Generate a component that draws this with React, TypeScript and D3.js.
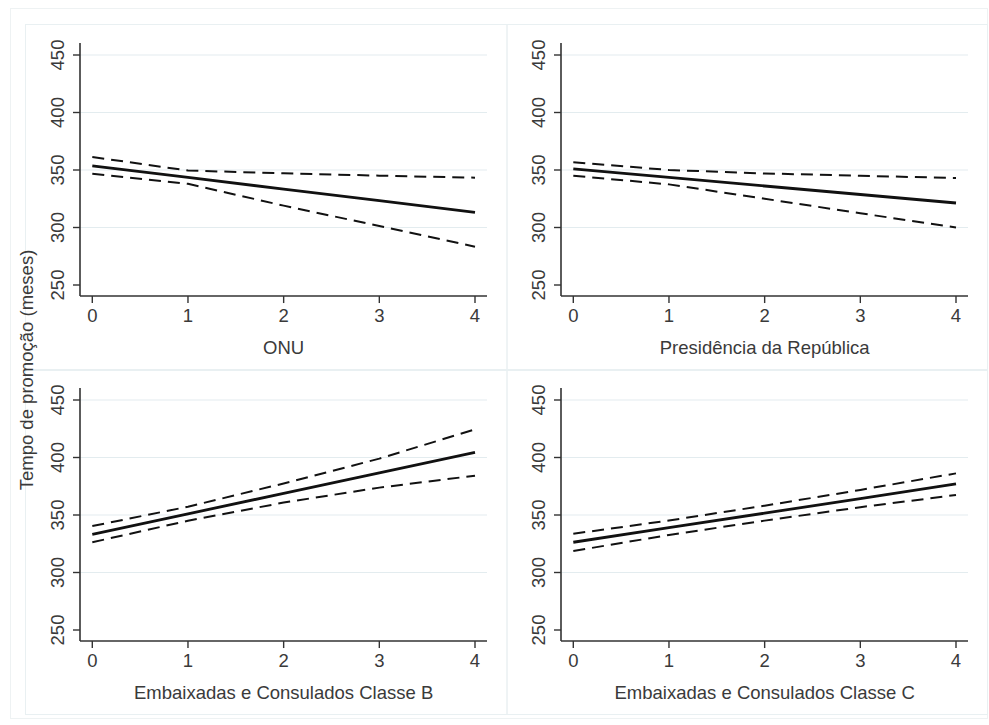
import React, { useEffect, useRef } from "react";
import * as d3 from "d3";

// x values where margins were evaluated
const xValues = [0, 1, 2, 3, 4];
const yTicks = [250, 300, 350, 400, 450];
const gridTicks = [300, 350, 400, 450];

const panelTitles = [
  "ONU",
  "Presidência da República",
  "Embaixadas e Consulados Classe B",
  "Embaixadas e Consulados Classe C",
];

// predicted promotion time (months) with 95% CI
const onuFit = [353.5, 343.5, 333.4, 323.3, 313.2];
const onuUpper = [361.3, 349.5, 347.1, 345.1, 343.3];
const onuLower = [346.8, 338.0, 319.0, 301.3, 283.3];

const presFit = [350.9, 343.5, 336.1, 328.7, 321.3];
const presUpper = [356.7, 350.0, 347.0, 345.0, 343.0];
const presLower = [345.0, 337.5, 325.0, 312.4, 300.0];

const classeBFit = [333.2, 351.0, 368.8, 386.7, 404.5];
const classeBUpper = [340.4, 357.2, 377.4, 399.0, 424.5];
const classeBLower = [326.3, 345.0, 360.8, 373.8, 384.2];

const classeCFit = [326.3, 339.0, 351.6, 364.3, 377.0];
const classeCUpper = [333.7, 345.2, 358.1, 371.8, 386.2];
const classeCLower = [318.7, 332.6, 345.1, 356.8, 367.4];

const yTitle = "Tempo de promoção (meses)";

const W = 989;
const H = 725;
const FONT = "'Liberation Sans', Arial, Helvetica, sans-serif";

export default function App() {
  const ref = useRef<SVGSVGElement>(null);

  useEffect(() => {
    const svg = d3.select(ref.current);
    svg.selectAll("*").remove();

    svg.append("rect").attr("width", W).attr("height", H).attr("fill", "#fff");
    // outer frame
    svg.append("rect")
      .attr("x", 10.5).attr("y", 8.5).attr("width", 977).attr("height", 710)
      .attr("fill", "none").attr("stroke", "#eef2f3");

    const panels = [
      { title: panelTitles[0], fit: onuFit, up: onuUpper, lo: onuLower, col: 0, row: 0 },
      { title: panelTitles[1], fit: presFit, up: presUpper, lo: presLower, col: 1, row: 0 },
      { title: panelTitles[2], fit: classeBFit, up: classeBUpper, lo: classeBLower, col: 0, row: 1 },
      { title: panelTitles[3], fit: classeCFit, up: classeCUpper, lo: classeCLower, col: 1, row: 1 },
    ];

    const colBox = [[25, 506.5], [506.5, 987]];
    const rowBox = [[24, 369], [370, 714]];
    const colAxis = [80, 561];
    const rowTop = [55, 400];

    panels.forEach((p) => {
      const g = svg.append("g");
      const bx = colBox[p.col], by = rowBox[p.row];
      g.append("rect")
        .attr("x", bx[0] + 0.5).attr("y", by[0] + 0.5)
        .attr("width", bx[1] - bx[0]).attr("height", by[1] - by[0])
        .attr("fill", "none").attr("stroke", "#e9f0f2");

      const ax = colAxis[p.col];
      const x = d3.scaleLinear().domain([0, 4]).range([ax + 12.3, ax + 395]);
      const y = d3.scaleLinear().domain([250, 450]).range([rowTop[p.row] + 230, rowTop[p.row]]);
      const axisBottom = y(240.4);
      const axisTop = y(460.5);
      const right = ax + 407;

      // gridlines
      g.selectAll(".grid").data(gridTicks).join("line")
        .attr("x1", ax).attr("x2", right)
        .attr("y1", (d) => y(d)).attr("y2", (d) => y(d))
        .attr("stroke", "#e3ecef").attr("stroke-width", 1.2);

      // axes
      g.append("line").attr("x1", ax).attr("x2", ax)
        .attr("y1", axisTop).attr("y2", axisBottom)
        .attr("stroke", "#333").attr("stroke-width", 1.6);
      g.append("line").attr("x1", ax).attr("x2", right)
        .attr("y1", axisBottom).attr("y2", axisBottom)
        .attr("stroke", "#333").attr("stroke-width", 1.6);

      g.selectAll(".yt").data(yTicks).join("line")
        .attr("x1", ax - 7).attr("x2", ax)
        .attr("y1", (d) => y(d)).attr("y2", (d) => y(d))
        .attr("stroke", "#333").attr("stroke-width", 1.4);
      g.selectAll(".ytl").data(yTicks).join("text")
        .attr("transform", (d) => `translate(${ax - 16.5},${y(d)}) rotate(-90)`)
        .attr("text-anchor", "middle")
        .attr("font-family", FONT).attr("font-size", 18.5).attr("fill", "#3a3a3a")
        .text((d) => d);

      g.selectAll(".xt").data(xValues).join("line")
        .attr("x1", (d) => x(d)).attr("x2", (d) => x(d))
        .attr("y1", axisBottom).attr("y2", axisBottom + 7)
        .attr("stroke", "#333").attr("stroke-width", 1.4);
      g.selectAll(".xtl").data(xValues).join("text")
        .attr("x", (d) => x(d)).attr("y", axisBottom + 26)
        .attr("text-anchor", "middle")
        .attr("font-family", FONT).attr("font-size", 18.5).attr("fill", "#3a3a3a")
        .text((d) => d);

      g.append("text")
        .attr("x", (x(0) + x(4)) / 2).attr("y", axisBottom + 58)
        .attr("text-anchor", "middle")
        .attr("font-family", FONT).attr("font-size", 18.5).attr("fill", "#3a3a3a")
        .text(p.title);

      const line = d3.line<number>().x((d, i) => x(xValues[i])).y((d) => y(d));
      [p.up, p.lo].forEach((s) => {
        g.append("path").attr("d", line(s))
          .attr("fill", "none").attr("stroke", "#111").attr("stroke-width", 2)
          .attr("stroke-dasharray", "12,7");
      });
      g.append("path").attr("d", line(p.fit))
        .attr("fill", "none").attr("stroke", "#111").attr("stroke-width", 2.8);
    });

    svg.append("text")
      .attr("transform", `translate(33,370) rotate(-90)`)
      .attr("text-anchor", "middle")
      .attr("font-family", FONT).attr("font-size", 18.5).attr("fill", "#3a3a3a")
      .text(yTitle);
  }, []);

  return (
    <svg ref={ref} width={W} height={H}
      style={{ position: "absolute", left: 0, top: 0, display: "block" }} />
  );
}
